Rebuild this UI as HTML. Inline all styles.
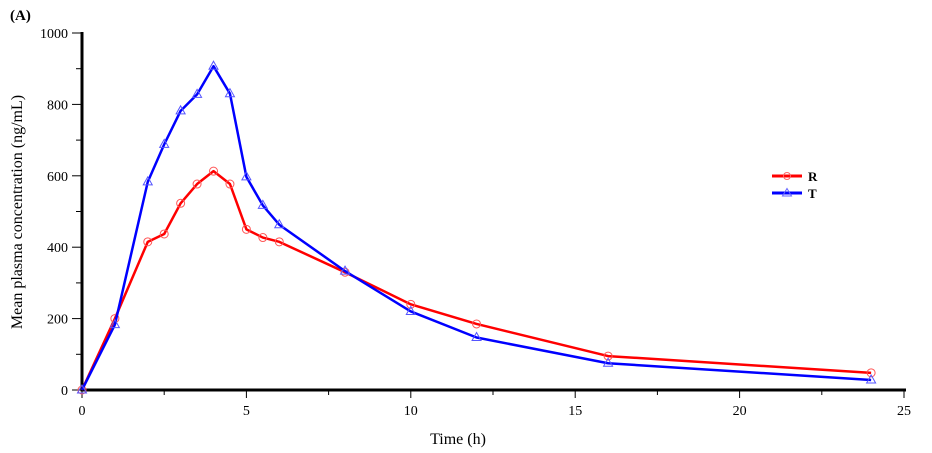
<!DOCTYPE html>
<html><head><meta charset="utf-8"><style>
body{margin:0;background:#fff;}
svg{display:block;font-family:"Liberation Serif",serif;}
</style></head><body>
<svg id="chart" width="932" height="453">
<text x="10" y="20" font-size="15" font-weight="bold">(A)</text>
<g id="axes"></g>
<g id="series"></g>
<text x="458" y="444" font-size="16" text-anchor="middle">Time (h)</text>
<text transform="translate(22,212) rotate(-90)" font-size="16" text-anchor="middle">Mean plasma concentration (ng/mL)</text>
<g>
<line x1="772" y1="176" x2="802" y2="176" stroke="#f00" stroke-width="3"/>
<circle cx="787" cy="176" r="3.5" fill="none" stroke="#f66"/>
<text x="808" y="181" font-size="13" font-weight="bold">R</text>
<line x1="772" y1="193" x2="802" y2="193" stroke="#00f" stroke-width="3"/>
<polygon points="787,188.5 791.5,196 782.5,196" fill="none" stroke="#66f"/>
<text x="808" y="198" font-size="13" font-weight="bold">T</text>
</g>
</svg>
<script>
const times=[0,1,2,2.5,3,3.5,4,4.5,5,5.5,6,8,10,12,16,24];
const seriesR=[0,200,415,437,523,577,613,577,450,427,415,330,240,185,95,48];
const seriesT=[0,183,583,688,782,828,907,830,597,517,463,333,220,147,75,28];
const xTicks=[0,5,10,15,20,25];
const yTicks=[0,200,400,600,800,1000];
const NS="http://www.w3.org/2000/svg";
const x=v=>82+v*32.88, y=v=>390-v*0.357;
function mk(t,a,p){const e=document.createElementNS(NS,t);for(const k in a)e.setAttribute(k,a[k]);p.appendChild(e);return e;}
const ax=document.getElementById('axes');
let l=mk('line',{x1:82,y1:390,x2:906,y2:390,stroke:'#000','stroke-width':3},ax);


l=mk('line',{x1:82,y1:391.5,x2:82,y2:32,stroke:'#000','stroke-width':3},ax);


for(let v=0;v<=25;v+=2.5){const maj=v%5===0;mk('line',{x1:x(v),y1:390,x2:x(v),y2:maj?398:395,stroke:'#000','stroke-width':1},ax);}
for(let v=0;v<=1000;v+=100){const maj=v%200===0;mk('line',{x1:82,y1:y(v),x2:maj?72:76,y2:y(v),stroke:'#000','stroke-width':1},ax);}
xTicks.forEach(v=>{const t=mk('text',{x:x(v),y:415,'font-size':14,'text-anchor':'middle'},ax);t.textContent=v;

});
yTicks.forEach(v=>{const t=mk('text',{x:68,y:y(v)+5,'font-size':14,'text-anchor':'end'},ax);t.textContent=v;

});
const sg=document.getElementById('series');
function draw(vals,col,mcol,kind,name){
 const g=mk('g',{},sg);
 
 
 mk('polyline',{points:times.map((t,i)=>x(t)+','+y(vals[i])).join(' '),fill:'none',stroke:col,'stroke-width':2.5,'stroke-linejoin':'round'},g);
 times.forEach((t,i)=>{const cx=x(t),cy=y(vals[i]);
  if(kind==='c')mk('circle',{cx:cx,cy:cy,r:4,fill:'none',stroke:mcol},g);
  else mk('polygon',{points:`${cx},${cy-5} ${cx+4.5},${cy+3} ${cx-4.5},${cy+3}`,fill:'none',stroke:mcol},g);});
}
draw(seriesR,'#f00','#f55','c','series-r');
draw(seriesT,'#00f','#55f','t','series-t');
</script>
</body></html>
